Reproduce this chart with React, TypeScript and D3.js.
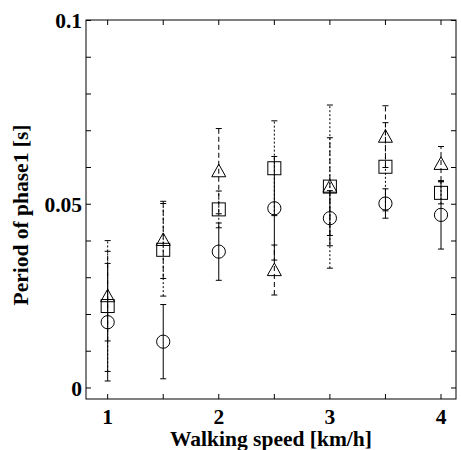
import React from "react";
import * as d3 from "d3";

const speeds = [1, 1.5, 2, 2.5, 3, 3.5, 4];
const circleMean = [0.0179, 0.0126, 0.0371, 0.0489, 0.0462, 0.0502, 0.0471];
const circleErr = [0.016, 0.0101, 0.0078, 0.0141, 0.0075, 0.004, 0.0093];
const squareMean = [0.0223, 0.0376, 0.0486, 0.0598, 0.0548, 0.0602, 0.0531];
const squareErr = [0.0178, 0.0126, 0.005, 0.0129, 0.0222, 0.012, 0.003];
const triangleMean = [0.025, 0.0403, 0.059, 0.0321, 0.0548, 0.0684, 0.061];
const triangleErr = [0.0122, 0.0105, 0.0116, 0.0068, 0.0133, 0.0084, 0.0047];

const xTicks = [1, 2, 3, 4];
const xMinorTicks = [1, 1.5, 2, 2.5, 3, 3.5, 4];
const yTicks = [0, 0.05, 0.1];
const yTickLabels = ["0", "0.05", "0.1"];
const yMinorTicks = [0, 0.01, 0.02, 0.03, 0.04, 0.05, 0.06, 0.07, 0.08, 0.09, 0.1];

const W = 461;
const H = 450;
const left = 86, right = 456, top = 20, bottom = 399;
const FONT = "'Liberation Serif', 'Times New Roman', Times, serif";
const textStyle: React.CSSProperties = { fontFamily: FONT, fontWeight: 700, fontSize: 21.5 };

export default function App() {
  const x = d3.scaleLinear().domain([0.805, 4.135]).range([left, right]);
  const y = d3.scaleLinear().domain([-0.003, 0.1]).range([bottom, 20.5]);
  const tick = 5;
  const cap = 3;

  const series = [
    { mean: circleMean, err: circleErr, dash: undefined as string | undefined, shape: "circle" },
    { mean: squareMean, err: squareErr, dash: "2,2", shape: "square" },
    { mean: triangleMean, err: triangleErr, dash: "5,3", shape: "triangle" },
  ];

  const marker = (shape: string, cx: number, cy: number, key: string) => {
    if (shape === "circle") return <circle key={key} cx={cx} cy={cy} r={6.6} fill="none" stroke="#000" strokeWidth={1} />;
    if (shape === "square") return <rect key={key} x={cx - 6.5} y={cy - 6.5} width={13} height={13} fill="none" stroke="#000" strokeWidth={1} />;
    const s = 7;
    const path = d3.path();
    path.moveTo(cx, cy - s);
    path.lineTo(cx + s, cy + s * 0.8);
    path.lineTo(cx - s, cy + s * 0.8);
    path.closePath();
    return <path key={key} d={path.toString()} fill="none" stroke="#000" strokeWidth={1} />;
  };

  return (
    <svg width={W} height={H} style={{ position: "absolute", left: 0, top: 0, background: "#fff" }}>
      <rect x={0} y={0} width={W} height={H} fill="#fff" />
      {series.map((s, si) => (
        <g key={"e" + si} stroke="#000" strokeWidth={1} strokeDasharray={s.dash}>
          {speeds.map((sp, i) => {
            const cx = x(sp);
            const y1 = y(s.mean[i] - s.err[i]);
            const y2 = y(s.mean[i] + s.err[i]);
            return (
              <g key={i}>
                <line x1={cx} x2={cx} y1={y1} y2={y2} />
                <line x1={cx - cap} x2={cx + cap} y1={y1} y2={y1} strokeDasharray="none" />
                <line x1={cx - cap} x2={cx + cap} y1={y2} y2={y2} strokeDasharray="none" />
              </g>
            );
          })}
        </g>
      ))}
      {series.map((s, si) => (
        <g key={"m" + si}>{speeds.map((sp, i) => marker(s.shape, x(sp), y(s.mean[i]), si + "-" + i))}</g>
      ))}
      <rect x={left} y={top} width={right - left} height={bottom - top} fill="none" stroke="#000" strokeWidth={1} />
      {yMinorTicks.map((v) => (
        <g key={"yt" + v} stroke="#000" strokeWidth={1}>
          <line x1={left} x2={left + tick} y1={y(v)} y2={y(v)} />
          <line x1={right} x2={right - tick} y1={y(v)} y2={y(v)} />
        </g>
      ))}
      {xMinorTicks.map((v) => (
        <g key={"xt" + v} stroke="#000" strokeWidth={1}>
          <line x1={x(v)} x2={x(v)} y1={bottom} y2={bottom - tick} />
          <line x1={x(v)} x2={x(v)} y1={top} y2={top + tick} />
        </g>
      ))}
      {xTicks.map((v) => (
        <text key={"xl" + v} x={x(v)} y={424} textAnchor="middle" style={textStyle}>{v}</text>
      ))}
      {yTicks.map((v, i) => (
        <text key={"yl" + v} x={82} y={y(v)} dy="0.35em" textAnchor="end" style={textStyle}>{yTickLabels[i]}</text>
      ))}
      <text x={271} y={446} textAnchor="middle" style={textStyle}>Walking speed [km/h]</text>
      <text transform={`translate(28,215) rotate(-90)`} textAnchor="middle" style={textStyle}>Period of phase1 [s]</text>
    </svg>
  );
}
